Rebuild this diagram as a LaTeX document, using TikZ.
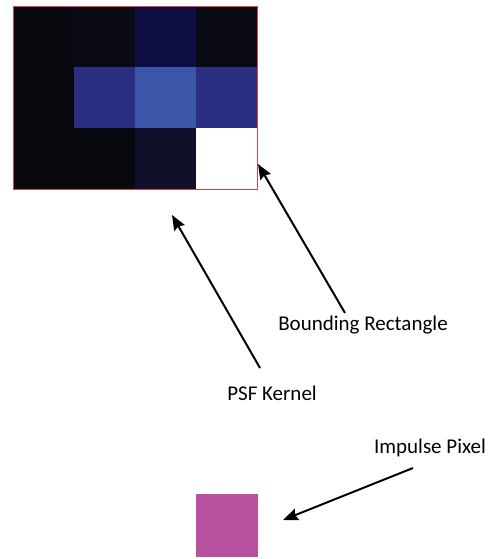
\documentclass[tikz,border=0pt]{standalone}
\usepackage{fontspec}
\setmainfont{Carlito}
\usetikzlibrary{arrows.meta}

\definecolor{kblack}{HTML}{08080F}
\definecolor{kblackb}{HTML}{0A0A14}
\definecolor{knavy}{HTML}{0E0E42}
\definecolor{knavyb}{HTML}{10102A}
\definecolor{kblue}{HTML}{2B2F82}
\definecolor{kbluel}{HTML}{3B56A8}
\definecolor{kred}{HTML}{D04848}
\definecolor{kpink}{HTML}{B852A0}

\tikzset{
  cell/.style={draw=none, minimum width=61pt, minimum height=60.7pt, inner sep=0pt, anchor=north west},
  lbl/.style={font=\fontsize{21}{25}\selectfont, inner sep=0pt, text=black},
  pointer/.style={line width=2pt, -{Stealth[length=15pt,width=12pt,inset=2pt]}}
}

\begin{document}
\begin{tikzpicture}[x=1pt,y=-1pt]
  \useasboundingbox[fill=white] (0,0) rectangle (495,559);

  % PSF kernel: 4 x 3 grid of cells
  \node[cell, fill=kblack]  (c11) at (13,6.5)   {};
  \node[cell, fill=kblackb] (c12) at (74,6.5)   {};
  \node[cell, fill=knavy]   (c13) at (135,6.5)  {};
  \node[cell, fill=kblackb] (c14) at (196,6.5)  {};
  \node[cell, fill=kblack]  (c21) at (13,67.2)  {};
  \node[cell, fill=kblue]   (c22) at (74,67.2)  {};
  \node[cell, fill=kbluel]  (c23) at (135,67.2) {};
  \node[cell, fill=kblue]   (c24) at (196,67.2) {};
  \node[cell, fill=kblack]  (c31) at (13,127.9) {};
  \node[cell, fill=kblack]  (c32) at (74,127.9) {};
  \node[cell, fill=knavyb]  (c33) at (135,127.9){};
  \node[cell, fill=white]   (c34) at (196,127.9){};

  % bounding rectangle around the kernel
  \draw[kred, line width=1pt] (c11.north west) rectangle (c34.south east);

  % impulse pixel
  \node[fill=kpink, minimum width=62pt, minimum height=63pt, inner sep=0pt, anchor=north west] (imp) at (196,494) {};

  % labels
  \node[lbl] (brect) at (363,325) {Bounding Rectangle};
  \node[lbl] (psf)   at (272,393) {PSF Kernel};
  \node[lbl] (ipix)  at (430,448) {Impulse Pixel};

  % arrow ends
  \coordinate (brtail) at (345,313);
  \coordinate (brtip)  at (258,164);
  \coordinate (psftail) at (260,368);
  \coordinate (psftip)  at (172,215);
  \coordinate (iptail) at (413,468);
  \coordinate (iptip)  at (283,520);

  \draw[pointer] (brtail) -- (brtip);
  \draw[pointer] (psftail) -- (psftip);
  \draw[pointer] (iptail) -- (iptip);
\end{tikzpicture}
\end{document}
